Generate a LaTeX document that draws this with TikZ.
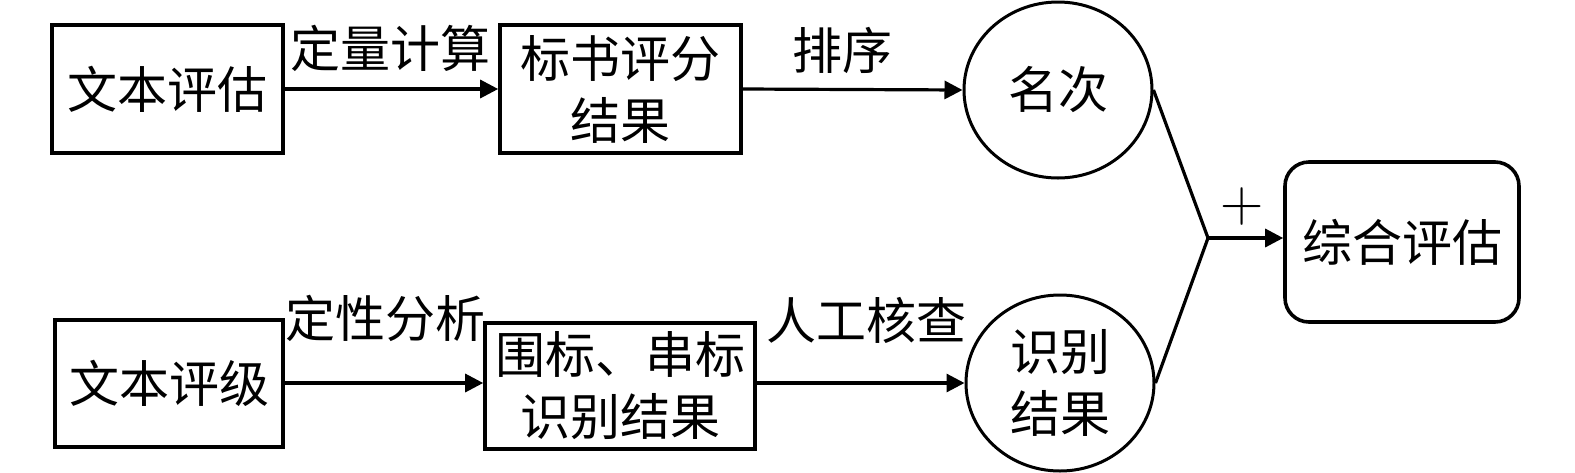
\documentclass[tikz,border=0pt]{standalone}
\usepackage{fontspec}
\setmainfont{Noto Sans CJK SC}
\newfontfamily\lmfont{Latin Modern Roman}
\usetikzlibrary{shapes.geometric,arrows.meta}
\begin{document}
\begin{tikzpicture}[x=0.5pt,y=-0.5pt,
  every node/.style={font=\fontsize{25}{31}\selectfont, inner sep=0pt, align=center},
  box/.style={draw, line width=1.8pt, minimum width=#1},
  oval/.style={draw, ellipse, line width=1.5pt, minimum width=94pt, minimum height=88pt},
  conn/.style={line width=1.6pt},
  arr/.style={conn, -{Triangle[length=9pt,width=9pt]}},
  lbl/.style={}]
\useasboundingbox (0,0) rectangle (1575,472);
\node[box=115.5pt, minimum height=64pt] (b1) at (167.5,89) {文本评估};
\node[box=120.5pt, minimum height=64pt] (b2) at (620.5,89) {标书评分\\结果};
\node[oval] (c1) at (1058,90) {名次};
\node[box=114pt, minimum height=63.5pt] (b4) at (169,383.5) {文本评级};
\node[box=135pt, minimum height=63pt] (b5) at (620,386) {围标、串标\\识别结果};
\node[oval] (c2) at (1060,383) {识别\\结果};
\node[box=117pt, minimum height=80pt, rounded corners=12pt] (b3) at (1402,242) {综合评估};
\coordinate (j) at (1208,238);

\draw[arr] (b1.east) -- (b2.west);
\draw[arr] (b2.east) -- (c1.west);
\draw[arr] (b4.east |- 0,383) -- (b5.west |- 0,383);
\draw[arr] (b5.east |- 0,383) -- (c2.west);
\draw[conn] (c1.east) -- (j) -- (c2.east);
\draw[arr] (j) -- (j -| b3.west);

\node[lbl] (l1) at (390,48) {定量计算};
\node[lbl] (l2) at (842,50) {排序};
\node[lbl] (l3) at (385,318) {定性分析};
\node[lbl] (l4) at (866,320) {人工核查};
\node[font=\lmfont\fontsize{30}{32}\selectfont] (l5) at (1242,207) {+};
\end{tikzpicture}
\end{document}
